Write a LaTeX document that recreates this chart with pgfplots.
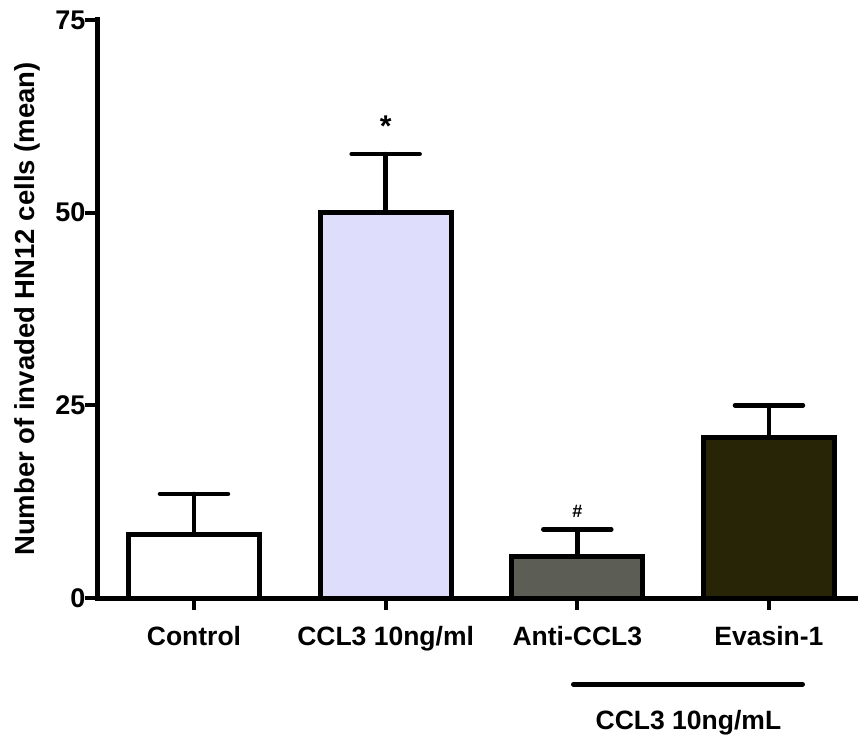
\documentclass[border=0pt]{standalone}
\usepackage{fontspec}
\setmainfont{Liberation Sans}
\usepackage{pgfplots}
\pgfplotsset{compat=1.18}

\definecolor{lav}{HTML}{DEDEFC}
\definecolor{greyb}{HTML}{5C5D55}
\definecolor{darkb}{HTML}{282506}

\newcommand{\lbl}{\fontsize{26.5}{30}\selectfont\bfseries}

\begin{document}
\begin{tikzpicture}
\useasboundingbox (0,0) rectangle (859pt,736pt);
\begin{axis}[
    at={(97pt,138pt)}, anchor=south west,
    scale only axis,
    width=758pt, height=578pt,
    xmin=-0.506, xmax=3.449,
    ymin=0, ymax=75,
    axis x line=bottom, axis y line=left,
    axis line style={-, line width=5pt, line cap=rect},
    ytick={0,25,50,75},
    yticklabels={0,25,50,75},
    xtick={0,1,2,3},
    xticklabels={Control, CCL3 10ng/ml, Anti-CCL3, Evasin-1},
    tick align=outside,
    major tick length=12pt,
    tick style={line width=4pt, black},
    xticklabel style={font=\lbl, yshift=-13pt},
    yticklabel style={font=\fontsize{27}{30}\selectfont\bfseries, xshift=4pt},
    ylabel={Number of invaded HN12 cells (mean)},
    ylabel style={font=\fontsize{27.5}{32}\selectfont\bfseries, at={(axis description cs:-0.0923,0.5)}, anchor=center},
    ybar, bar shift=0pt, bar width=131pt,
    clip=false,
    every axis plot/.append style={draw=black, line width=5pt},
    error bars/y dir=plus,
    error bars/y explicit,
    error bars/error bar style={line width=4.5pt, black, line cap=round},
    error bars/error mark options={rotate=90, line width=4.5pt, black, mark size=34pt, line cap=round},
]
\addplot[fill=white] coordinates {(0,8.3) +- (0,5.2)};
\addplot[fill=lav] coordinates {(1,50.0) +- (0,7.6)};
\addplot[fill=greyb] coordinates {(2,5.4) +- (0,3.5)};
\addplot[fill=darkb] coordinates {(3,20.8) +- (0,4.2)};

\node[font=\fontsize{30}{32}\selectfont\bfseries] at (axis cs:1,61.2) {*};
\node[font=\fontsize{18}{20}\selectfont\bfseries] at (axis cs:2,11.3) {\#};
\draw[line width=5pt, line cap=round] (axis cs:1.98,-11.2) -- (axis cs:3.175,-11.2);
\node[font=\lbl] at (axis cs:2.58,-16.2) {CCL3 10ng/mL};
\end{axis}
\end{tikzpicture}
\end{document}
